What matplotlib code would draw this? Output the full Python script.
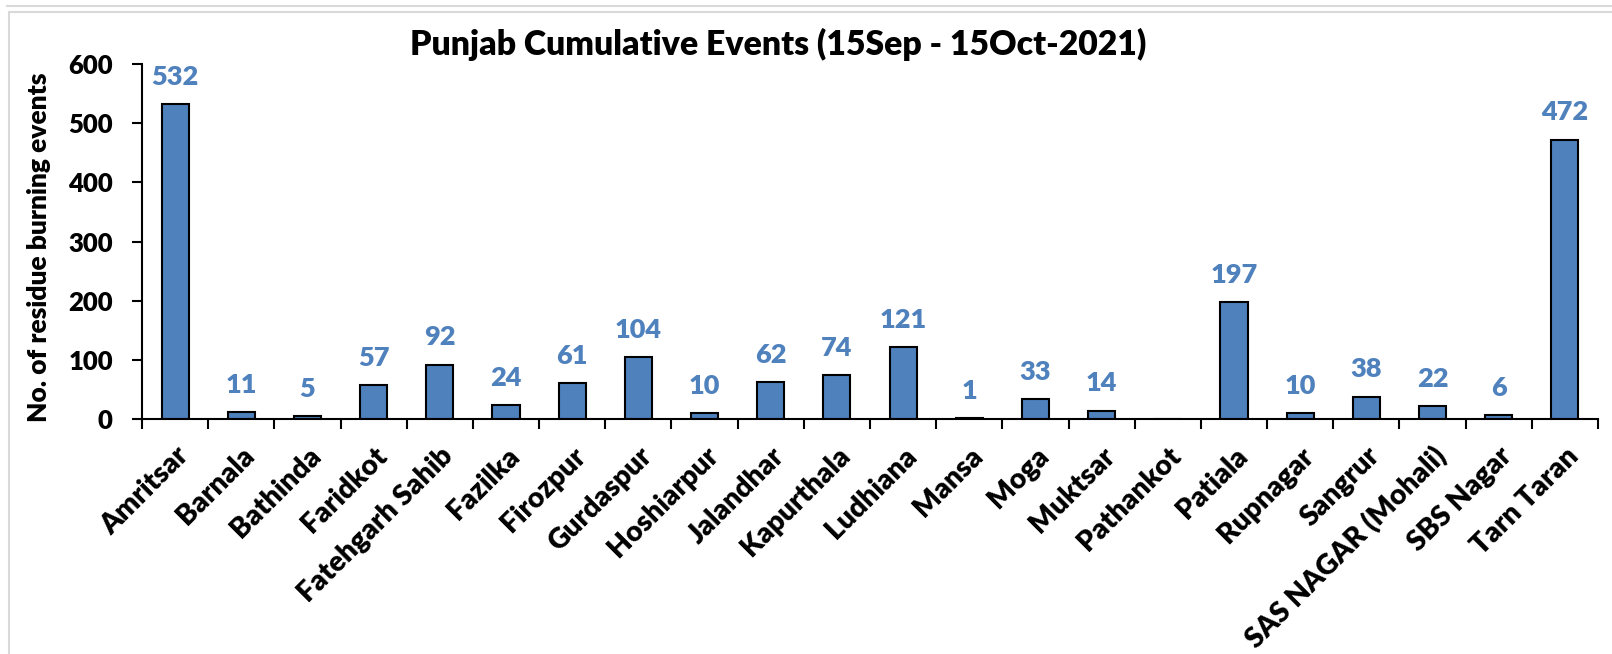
import matplotlib.pyplot as plt
from matplotlib.patches import Rectangle
from matplotlib.lines import Line2D
import numpy as np

plt.rcParams['font.family'] = ['Lato', 'DejaVu Sans']
plt.rcParams['font.weight'] = 'bold'

# Data
districts = ['Amritsar', 'Barnala', 'Bathinda', 'Faridkot', 'Fatehgarh Sahib', 'Fazilka',
             'Firozpur', 'Gurdaspur', 'Hoshiarpur', 'Jalandhar', 'Kapurthala', 'Ludhiana',
             'Mansa', 'Moga', 'Muktsar', 'Pathankot', 'Patiala', 'Rupnagar', 'Sangrur',
             'SAS NAGAR (Mohali)', 'SBS Nagar', 'Tarn Taran']
events = [532, 11, 5, 57, 92, 24, 61, 104, 10, 62, 74, 121,
          1, 33, 14, np.nan, 197, 10, 38, 22, 6, 472]

W, H = 1612, 654
fig = plt.figure(figsize=(W / 100, H / 100), dpi=100)
ax = fig.add_axes([142 / W, 1 - 419 / H, (1598 - 142) / W, (419 - 64) / H])

x = np.arange(len(districts))
bar_color = '#4F81BD'
vals = np.nan_to_num(events)
ax.bar(x, vals, width=0.41, color=bar_color, edgecolor='black', linewidth=1.5, zorder=2)

for xi, v in zip(x, events):
	if not np.isnan(v):
		ax.annotate(f'{int(v)}', (xi, v), xytext=(0, 11), textcoords='offset points',
		            ha='center', va='bottom', color=bar_color, fontsize=19.5, fontweight='heavy')

ax.set_xlim(-0.5, len(districts) - 0.5)
ax.set_ylim(0, 600)
ax.set_yticks([0, 100, 200, 300, 400, 500, 600])

# ticks between categories
ax.set_xticks(np.arange(-0.5, len(districts), 1))
ax.set_xticklabels([])
ax.set_xticks(x, minor=True)
ax.set_xticklabels(districts, minor=True, rotation=45, ha='right', va='top',
                   rotation_mode='anchor', fontsize=20.3, fontweight='heavy')
ax.tick_params(axis='x', which='major', length=7, width=1.5, direction='out')
ax.tick_params(axis='x', which='minor', length=0, pad=17)
ax.tick_params(axis='y', length=7, width=1.5, pad=14, labelsize=18.5)
for lbl in ax.get_yticklabels():
	lbl.set_fontweight('heavy')

for s in ['top', 'right']:
	ax.spines[s].set_visible(False)
for s in ['left', 'bottom']:
	ax.spines[s].set_linewidth(1.5)

ax.set_ylabel('No. of residue burning events', fontsize=19, fontweight='heavy')
ax.yaxis.set_label_coords((51 - 142) / (1598 - 142), 0.485)
fig.text(778 / W, 1 - 44 / H, 'Punjab Cumulative Events (15Sep - 15Oct-2021)',
         ha='center', va='center', fontsize=24.3, fontweight='heavy')

# chart frame
fig.patches.append(Rectangle((9 / W, -0.1), 1.2, 1 - 12 / H + 0.1, transform=fig.transFigure,
                             fill=False, edgecolor='#d9d9d9', linewidth=1.5))
fig.lines.append(Line2D([7 / W, 1.0], [1 - 6 / H, 1 - 6 / H], transform=fig.transFigure,
                        color='#d9d9d9', linewidth=1.5))

plt.savefig('out.png', dpi=100)
